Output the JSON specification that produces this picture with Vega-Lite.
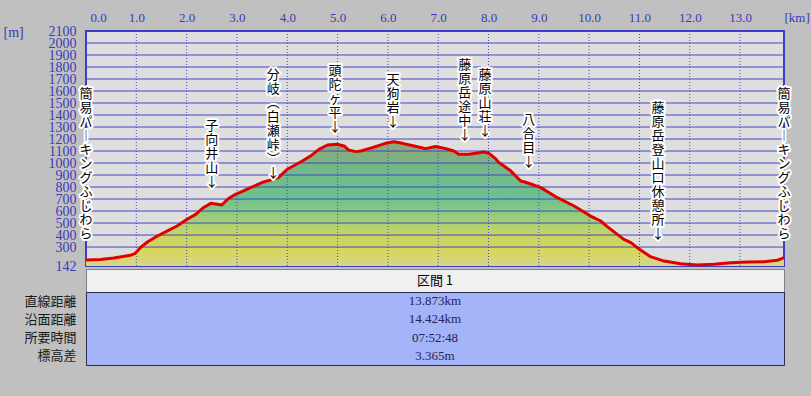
{
  "$schema": "https://vega.github.io/schema/vega-lite/v6.json",
  "background": "#c0c0c0",
  "padding": {"left": 2, "top": 10, "right": 2, "bottom": 30},
  "bounds": "flush",
  "spacing": 3,
  "config": {
    "text": {"font": "Noto Sans CJK JP"},
    "axisY": {"labelOverlap": false},
    "axisX": {"labelOverlap": false}
  },
  "datasets": {
    "profile": [
      {"km": 0.0, "elev": 192}, {"km": 0.29, "elev": 197}, {"km": 0.55, "elev": 208}, {"km": 0.88, "elev": 231},
      {"km": 0.98, "elev": 248}, {"km": 1.08, "elev": 295}, {"km": 1.22, "elev": 342}, {"km": 1.42, "elev": 392},
      {"km": 1.61, "elev": 433}, {"km": 1.81, "elev": 475}, {"km": 2.01, "elev": 531}, {"km": 2.18, "elev": 572},
      {"km": 2.34, "elev": 630}, {"km": 2.48, "elev": 664}, {"km": 2.61, "elev": 656}, {"km": 2.7, "elev": 650},
      {"km": 2.82, "elev": 700}, {"km": 2.97, "elev": 739}, {"km": 3.12, "elev": 765}, {"km": 3.27, "elev": 795},
      {"km": 3.53, "elev": 842}, {"km": 3.7, "elev": 862}, {"km": 3.83, "elev": 880}, {"km": 4.0, "elev": 948},
      {"km": 4.3, "elev": 1017}, {"km": 4.46, "elev": 1058}, {"km": 4.63, "elev": 1114}, {"km": 4.8, "elev": 1150},
      {"km": 4.99, "elev": 1156}, {"km": 5.13, "elev": 1142}, {"km": 5.22, "elev": 1108}, {"km": 5.36, "elev": 1095},
      {"km": 5.46, "elev": 1100}, {"km": 5.69, "elev": 1128}, {"km": 5.95, "elev": 1164}, {"km": 6.12, "elev": 1178},
      {"km": 6.29, "elev": 1164}, {"km": 6.52, "elev": 1142}, {"km": 6.75, "elev": 1120}, {"km": 6.95, "elev": 1137},
      {"km": 7.15, "elev": 1120}, {"km": 7.31, "elev": 1100}, {"km": 7.41, "elev": 1073}, {"km": 7.61, "elev": 1073},
      {"km": 7.74, "elev": 1081}, {"km": 7.91, "elev": 1092}, {"km": 8.01, "elev": 1081}, {"km": 8.14, "elev": 1036},
      {"km": 8.2, "elev": 1006}, {"km": 8.44, "elev": 935}, {"km": 8.64, "elev": 850}, {"km": 8.72, "elev": 842},
      {"km": 8.84, "elev": 825}, {"km": 9.04, "elev": 795}, {"km": 9.37, "elev": 711}, {"km": 9.7, "elev": 642},
      {"km": 10.03, "elev": 558}, {"km": 10.23, "elev": 517}, {"km": 10.36, "elev": 470}, {"km": 10.69, "elev": 364},
      {"km": 10.83, "elev": 337}, {"km": 11.0, "elev": 281}, {"km": 11.22, "elev": 220}, {"km": 11.49, "elev": 183},
      {"km": 11.82, "elev": 160}, {"km": 12.15, "elev": 150}, {"km": 12.48, "elev": 156}, {"km": 12.81, "elev": 170},
      {"km": 13.15, "elev": 175}, {"km": 13.48, "elev": 178}, {"km": 13.74, "elev": 189}, {"km": 13.873, "elev": 211}
    ],
    "waypoints": [
      {"km": 0.0, "elev": 1625, "name": "簡\n易\nパ\n︱\nキ\nン\nグ\nふ\nじ\nわ\nら"},
      {"km": 2.5, "elev": 1356, "name": "子\n向\n井\n山\n↓"},
      {"km": 3.72, "elev": 1781, "name": "分\n岐\n︵\n白\n瀬\n峠\n︶\n↓"},
      {"km": 4.95, "elev": 1814, "name": "頭\n陀\nヶ\n平\n↓"},
      {"km": 6.1, "elev": 1739, "name": "天\n狗\n岩\n↓"},
      {"km": 7.53, "elev": 1864, "name": "藤\n原\n岳\n途\n中\n↓"},
      {"km": 7.93, "elev": 1781, "name": "藤\n原\n山\n荘\n↓"},
      {"km": 8.8, "elev": 1406, "name": "八\n合\n目\n↓"},
      {"km": 11.37, "elev": 1506, "name": "藤\n原\n岳\n登\n山\n口\n休\n憩\n所\n↓"},
      {"km": 13.873, "elev": 1625, "name": "簡\n易\nパ\n︱\nキ\nン\nグ\nふ\nじ\nわ\nら"}
    ],
    "hgrid": [
      {"elev": 300}, {"elev": 400}, {"elev": 500}, {"elev": 600}, {"elev": 700}, {"elev": 800}, {"elev": 900}, {"elev": 1000},
      {"elev": 1100}, {"elev": 1200}, {"elev": 1300}, {"elev": 1400}, {"elev": 1500}, {"elev": 1600}, {"elev": 1700},
      {"elev": 1800}, {"elev": 1900}, {"elev": 2000}
    ],
    "vgrid": [
      {"km": 1}, {"km": 2}, {"km": 3}, {"km": 4}, {"km": 5}, {"km": 6}, {"km": 7}, {"km": 8}, {"km": 9},
      {"km": 10}, {"km": 11}, {"km": 12}, {"km": 13}
    ],
    "sections": [{"section": "区間 1"}],
    "summary": [
      {"item": "直線距離", "value": "13.873km"},
      {"item": "沿面距離", "value": "14.424km"},
      {"item": "所要時間", "value": "07:52:48"},
      {"item": "標高差", "value": "3.365m"}
    ]
  },
  "vconcat": [
    {
      "width": 698,
      "height": 235,
      "view": {"fill": "#dedede", "stroke": "#3c3cc8", "strokeWidth": 2},
      "layer": [
        {
          "data": {"name": "profile"},
          "mark": {
            "type": "area",
            "clip": true,
            "fill": {
              "gradient": "linear", "x1": 0, "y1": 0, "x2": 0, "y2": 1,
              "stops": [
                {"offset": 0, "color": "#93a579"},
                {"offset": 0.08, "color": "#84ad7e"},
                {"offset": 0.2, "color": "#72b889"},
                {"offset": 0.4, "color": "#6cc28e"},
                {"offset": 0.52, "color": "#94cc7c"},
                {"offset": 0.64, "color": "#c2d366"},
                {"offset": 0.76, "color": "#d6d65c"},
                {"offset": 0.87, "color": "#d6d684"},
                {"offset": 1, "color": "#d9d9a2"}
              ]
            }
          },
          "encoding": {
            "x": {
              "field": "km", "type": "quantitative", "title": "[km]",
              "scale": {"domain": [0, 13.873], "nice": false, "zero": false},
              "axis": {
                "orient": "top",
                "values": [0, 1, 2, 3, 4, 5, 6, 7, 8, 9, 10, 11, 12, 13],
                "format": ".1f",
                "grid": false, "ticks": false, "domain": false,
                "labelPadding": 10, "labelBaseline": "alphabetic",
                "labelFont": "Liberation Serif", "labelFontSize": 13, "labelColor": "#3a3ab8",
                "labelFlush": false, "labelOverlap": false,
                "labelOffset": {"condition": {"test": "datum.value === 0", "value": 12}, "value": 0},
                "titleX": 698, "titleY": -10, "titleAlign": "left", "titleBaseline": "alphabetic",
                "titleFont": "Liberation Serif", "titleFontSize": 13, "titleFontWeight": "normal", "titleColor": "#3a3ab8"
              }
            },
            "y": {
              "field": "elev", "type": "quantitative", "title": "[m]",
              "scale": {"domain": [142, 2100], "nice": false, "zero": false},
              "axis": {
                "values": [142, 300, 400, 500, 600, 700, 800, 900, 1000, 1100, 1200, 1300, 1400, 1500, 1600, 1700, 1800, 1900, 2000, 2100],
                "format": "d",
                "grid": false, "ticks": false, "domain": false,
                "labelPadding": 10, "labelBaseline": "middle",
                "labelFont": "Liberation Serif", "labelFontSize": 14, "labelColor": "#3a3ab8",
                "labelFlush": false, "labelOverlap": false,
                "titleAngle": 0, "titleX": -83, "titleY": 1, "titleAlign": "left", "titleBaseline": "middle",
                "titleFont": "Liberation Serif", "titleFontSize": 14, "titleFontWeight": "normal", "titleColor": "#3a3ab8"
              }
            }
          }
        },
        {
          "data": {"name": "hgrid"},
          "mark": {"type": "rule", "color": "#4646c8", "strokeWidth": 1},
          "encoding": {
            "y": {
              "field": "elev", "type": "quantitative", "title": "[m]",
              "scale": {"domain": [142, 2100], "nice": false, "zero": false},
              "axis": {
                "values": [142, 300, 400, 500, 600, 700, 800, 900, 1000, 1100, 1200, 1300, 1400, 1500, 1600, 1700, 1800, 1900, 2000, 2100],
                "format": "d",
                "grid": false, "ticks": false, "domain": false,
                "labelPadding": 10, "labelBaseline": "middle",
                "labelFont": "Liberation Serif", "labelFontSize": 14, "labelColor": "#3a3ab8",
                "labelFlush": false, "labelOverlap": false,
                "titleAngle": 0, "titleX": -83, "titleY": 1, "titleAlign": "left", "titleBaseline": "middle",
                "titleFont": "Liberation Serif", "titleFontSize": 14, "titleFontWeight": "normal", "titleColor": "#3a3ab8"
              }
            }
          }
        },
        {
          "data": {"name": "vgrid"},
          "mark": {"type": "rule", "color": "#4646c8", "strokeWidth": 1, "strokeDash": [1, 2]},
          "encoding": {
            "x": {
              "field": "km", "type": "quantitative", "title": "[km]",
              "scale": {"domain": [0, 13.873], "nice": false, "zero": false},
              "axis": {
                "orient": "top",
                "values": [0, 1, 2, 3, 4, 5, 6, 7, 8, 9, 10, 11, 12, 13],
                "format": ".1f",
                "grid": false, "ticks": false, "domain": false,
                "labelPadding": 10, "labelBaseline": "alphabetic",
                "labelFont": "Liberation Serif", "labelFontSize": 13, "labelColor": "#3a3ab8",
                "labelFlush": false, "labelOverlap": false,
                "labelOffset": {"condition": {"test": "datum.value === 0", "value": 12}, "value": 0},
                "titleX": 698, "titleY": -10, "titleAlign": "left", "titleBaseline": "alphabetic",
                "titleFont": "Liberation Serif", "titleFontSize": 13, "titleFontWeight": "normal", "titleColor": "#3a3ab8"
              }
            }
          }
        },
        {
          "data": {"name": "profile"},
          "mark": {"type": "line", "color": "#e00000", "strokeWidth": 3, "strokeJoin": "round"},
          "encoding": {
            "x": {
              "field": "km", "type": "quantitative", "title": "[km]",
              "scale": {"domain": [0, 13.873], "nice": false, "zero": false},
              "axis": {
                "orient": "top",
                "values": [0, 1, 2, 3, 4, 5, 6, 7, 8, 9, 10, 11, 12, 13],
                "format": ".1f",
                "grid": false, "ticks": false, "domain": false,
                "labelPadding": 10, "labelBaseline": "alphabetic",
                "labelFont": "Liberation Serif", "labelFontSize": 13, "labelColor": "#3a3ab8",
                "labelFlush": false, "labelOverlap": false,
                "labelOffset": {"condition": {"test": "datum.value === 0", "value": 12}, "value": 0},
                "titleX": 698, "titleY": -10, "titleAlign": "left", "titleBaseline": "alphabetic",
                "titleFont": "Liberation Serif", "titleFontSize": 13, "titleFontWeight": "normal", "titleColor": "#3a3ab8"
              }
            },
            "y": {
              "field": "elev", "type": "quantitative", "title": "[m]",
              "scale": {"domain": [142, 2100], "nice": false, "zero": false},
              "axis": {
                "values": [142, 300, 400, 500, 600, 700, 800, 900, 1000, 1100, 1200, 1300, 1400, 1500, 1600, 1700, 1800, 1900, 2000, 2100],
                "format": "d",
                "grid": false, "ticks": false, "domain": false,
                "labelPadding": 10, "labelBaseline": "middle",
                "labelFont": "Liberation Serif", "labelFontSize": 14, "labelColor": "#3a3ab8",
                "labelFlush": false, "labelOverlap": false,
                "titleAngle": 0, "titleX": -83, "titleY": 1, "titleAlign": "left", "titleBaseline": "middle",
                "titleFont": "Liberation Serif", "titleFontSize": 14, "titleFontWeight": "normal", "titleColor": "#3a3ab8"
              }
            }
          }
        },
        {
          "data": {"name": "waypoints"},
          "mark": {"type": "text", "lineBreak": "\n", "baseline": "top", "align": "center", "fontSize": 13, "lineHeight": 14, "fill": "#ffffff", "stroke": "#ffffff", "strokeWidth": 4, "strokeJoin": "round"},
          "encoding": {
            "x": {
              "field": "km", "type": "quantitative", "title": "[km]",
              "scale": {"domain": [0, 13.873], "nice": false, "zero": false},
              "axis": {
                "orient": "top",
                "values": [0, 1, 2, 3, 4, 5, 6, 7, 8, 9, 10, 11, 12, 13],
                "format": ".1f",
                "grid": false, "ticks": false, "domain": false,
                "labelPadding": 10, "labelBaseline": "alphabetic",
                "labelFont": "Liberation Serif", "labelFontSize": 13, "labelColor": "#3a3ab8",
                "labelFlush": false, "labelOverlap": false,
                "labelOffset": {"condition": {"test": "datum.value === 0", "value": 12}, "value": 0},
                "titleX": 698, "titleY": -10, "titleAlign": "left", "titleBaseline": "alphabetic",
                "titleFont": "Liberation Serif", "titleFontSize": 13, "titleFontWeight": "normal", "titleColor": "#3a3ab8"
              }
            },
            "y": {
              "field": "elev", "type": "quantitative", "title": "[m]",
              "scale": {"domain": [142, 2100], "nice": false, "zero": false},
              "axis": {
                "values": [142, 300, 400, 500, 600, 700, 800, 900, 1000, 1100, 1200, 1300, 1400, 1500, 1600, 1700, 1800, 1900, 2000, 2100],
                "format": "d",
                "grid": false, "ticks": false, "domain": false,
                "labelPadding": 10, "labelBaseline": "middle",
                "labelFont": "Liberation Serif", "labelFontSize": 14, "labelColor": "#3a3ab8",
                "labelFlush": false, "labelOverlap": false,
                "titleAngle": 0, "titleX": -83, "titleY": 1, "titleAlign": "left", "titleBaseline": "middle",
                "titleFont": "Liberation Serif", "titleFontSize": 14, "titleFontWeight": "normal", "titleColor": "#3a3ab8"
              }
            },
            "text": {"field": "name", "type": "nominal"}
          }
        },
        {
          "data": {"name": "waypoints"},
          "mark": {"type": "text", "lineBreak": "\n", "baseline": "top", "align": "center", "fontSize": 13, "lineHeight": 14, "fill": "#000000"},
          "encoding": {
            "x": {
              "field": "km", "type": "quantitative", "title": "[km]",
              "scale": {"domain": [0, 13.873], "nice": false, "zero": false},
              "axis": {
                "orient": "top",
                "values": [0, 1, 2, 3, 4, 5, 6, 7, 8, 9, 10, 11, 12, 13],
                "format": ".1f",
                "grid": false, "ticks": false, "domain": false,
                "labelPadding": 10, "labelBaseline": "alphabetic",
                "labelFont": "Liberation Serif", "labelFontSize": 13, "labelColor": "#3a3ab8",
                "labelFlush": false, "labelOverlap": false,
                "labelOffset": {"condition": {"test": "datum.value === 0", "value": 12}, "value": 0},
                "titleX": 698, "titleY": -10, "titleAlign": "left", "titleBaseline": "alphabetic",
                "titleFont": "Liberation Serif", "titleFontSize": 13, "titleFontWeight": "normal", "titleColor": "#3a3ab8"
              }
            },
            "y": {
              "field": "elev", "type": "quantitative", "title": "[m]",
              "scale": {"domain": [142, 2100], "nice": false, "zero": false},
              "axis": {
                "values": [142, 300, 400, 500, 600, 700, 800, 900, 1000, 1100, 1200, 1300, 1400, 1500, 1600, 1700, 1800, 1900, 2000, 2100],
                "format": "d",
                "grid": false, "ticks": false, "domain": false,
                "labelPadding": 10, "labelBaseline": "middle",
                "labelFont": "Liberation Serif", "labelFontSize": 14, "labelColor": "#3a3ab8",
                "labelFlush": false, "labelOverlap": false,
                "titleAngle": 0, "titleX": -83, "titleY": 1, "titleAlign": "left", "titleBaseline": "middle",
                "titleFont": "Liberation Serif", "titleFontSize": 14, "titleFontWeight": "normal", "titleColor": "#3a3ab8"
              }
            },
            "text": {"field": "name", "type": "nominal"}
          }
        }
      ]
    },
    {
      "spacing": 0,
      "bounds": "flush",
      "vconcat": [
        {
          "width": 698,
          "height": 23,
          "data": {"name": "sections"},
          "view": {"fill": "#f0f0f0", "stroke": "#808080"},
          "mark": {"type": "text", "fontSize": 13, "fill": "#000000", "baseline": "middle"},
          "encoding": {"text": {"field": "section", "type": "nominal"}}
        },
        {
          "width": 698,
          "height": 73,
          "data": {"name": "summary"},
          "view": {"fill": "#a4b4f8", "stroke": "#2a2a50"},
          "mark": {"type": "text", "font": "Liberation Serif", "fontSize": 13, "fill": "#23235a", "baseline": "middle"},
          "encoding": {
            "y": {
              "field": "item", "type": "nominal", "sort": null,
              "scale": {"paddingInner": 0, "paddingOuter": 0.03},
              "axis": {"title": null, "ticks": false, "domain": false, "labelPadding": 10, "labelFont": "Noto Sans CJK JP", "labelFontSize": 13, "labelColor": "#1a1a1a"}
            },
            "text": {"field": "value", "type": "nominal"}
          }
        }
      ]
    }
  ]
}
